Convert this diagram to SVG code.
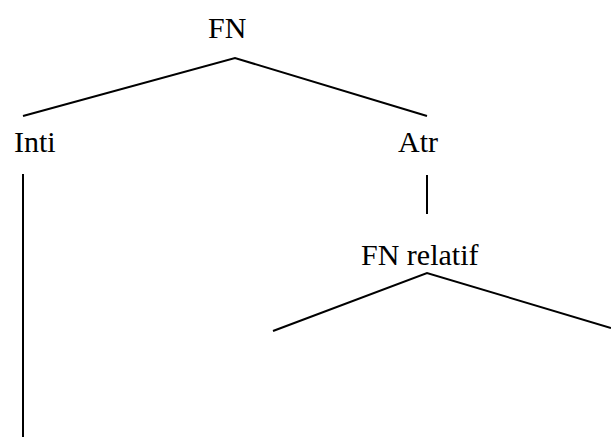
<svg xmlns="http://www.w3.org/2000/svg" width="611" height="437" viewBox="0 0 611 437">
<style>
text{font-family:"Liberation Serif","Times New Roman",serif;font-size:30px;fill:#000}
.c line,.c polyline{stroke:#000;stroke-width:2;fill:none}
</style>
<rect width="611" height="437" fill="#fff"/>
<g id="n-fn"><text x="208" y="38">FN</text></g>
<g id="n-inti"><text x="14" y="152">Inti</text></g>
<g id="n-atr"><text x="398" y="152">Atr</text></g>
<g id="n-fnrel"><text x="361" y="265">FN relatif</text></g>
<g class="c" id="connectors">
<polyline points="23,116 235,58 427,116"/>
<line x1="23" y1="174" x2="23" y2="437"/>
<line x1="427" y1="175" x2="427" y2="214"/>
<polyline points="273,331 427,273 611,328"/>
</g>
</svg>
